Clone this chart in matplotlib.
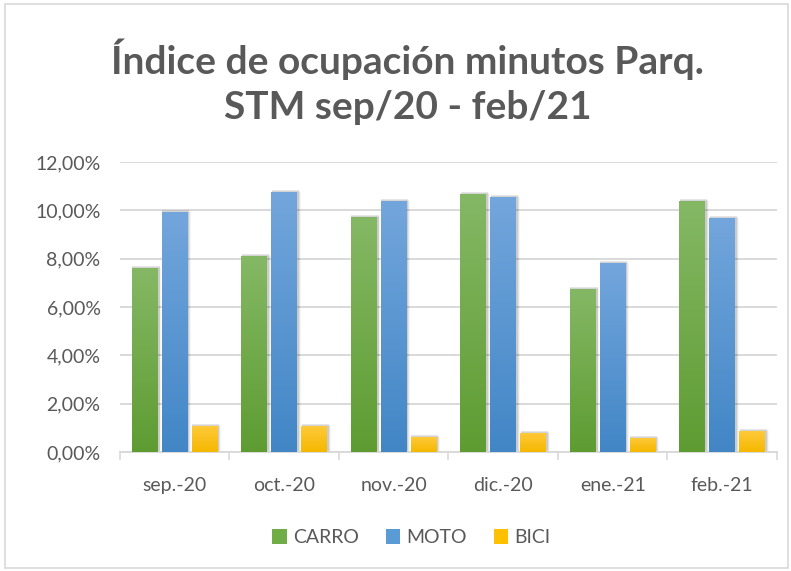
import numpy as np
import matplotlib
matplotlib.use("Agg")
import matplotlib.pyplot as plt
from matplotlib.colors import LinearSegmentedColormap
from matplotlib.patches import Rectangle, Patch
from matplotlib.ticker import FuncFormatter, MultipleLocator, FixedLocator

plt.rcParams['font.family'] = ['Lato', 'DejaVu Sans']

meses = ['sep.-20', 'oct.-20', 'nov.-20', 'dic.-20', 'ene.-21', 'feb.-21']
carro = [0.0761, 0.0811, 0.0972, 0.1067, 0.0675, 0.1038]
moto = [0.0993, 0.1076, 0.1038, 0.1055, 0.0782, 0.0968]
bici = [0.0109, 0.0109, 0.0063, 0.0080, 0.0059, 0.0088]

series = [
    ('CARRO', carro, '#85b865', '#5e9c32', '#70ad47'),
    ('MOTO', moto, '#73a6dc', '#4286c6', '#5b9bd5'),
    ('BICI', bici, '#ffca3c', '#f5b800', '#ffc000'),
]

gris = '#595959'

fig = plt.figure(figsize=(7.91, 5.71), dpi=100)
ax = fig.add_axes([0.1517, 0.2084, 0.8306, 0.5079])

# marco del grafico
fig.patches.append(Rectangle((0.006, 0.005), 0.99, 0.988, transform=fig.transFigure,
                             fill=False, edgecolor='#d9d9d9', linewidth=1.2))

x = np.arange(len(meses))
ancho = 0.237
paso = 0.273
grad = np.linspace(1, 0, 256).reshape(-1, 1)

for i, (nombre, valores, c_top, c_bot, c_ley) in enumerate(series):
    cmap = LinearSegmentedColormap.from_list(nombre, [c_bot, c_top])
    for xi, v in zip(x + (i - 1) * paso, valores):
        x0 = xi - ancho / 2
        # sombra suave a la derecha
        for k, a in enumerate([0.10, 0.07, 0.04]):
            dx = 0.012 + k * 0.008
            ax.add_patch(Rectangle((x0 + 0.004, 0), ancho + dx, v + 0.0004 * (2 - k),
                                   facecolor='black', alpha=a, linewidth=0, zorder=2))
        barra = ax.bar(xi, v, width=ancho, color=c_ley, zorder=3, linewidth=0)[0]
        img = ax.imshow(grad, cmap=cmap, aspect='auto', zorder=4,
                        extent=[x0, x0 + ancho, 0, v])
        img.set_clip_path(barra)

ax.set_xlim(-0.5, len(meses) - 0.5)
ax.set_ylim(0, 0.12)
ax.yaxis.set_major_locator(MultipleLocator(0.02))
ax.yaxis.set_major_formatter(FuncFormatter(lambda v, p: f'{v*100:.2f}%'.replace('.', ',')))
ax.grid(axis='y', color='#d9d9d9', linewidth=1.4, zorder=0)
ax.set_axisbelow(True)

ax.set_xticks(x)
ax.set_xticklabels(meses)
ax.xaxis.set_minor_locator(FixedLocator(np.arange(-0.5, len(meses), 1)))
ax.tick_params(axis='x', which='major', length=0, pad=18, labelsize=14, labelcolor=gris)
ax.tick_params(axis='x', which='minor', length=6, width=1.2, color='#d9d9d9')
ax.tick_params(axis='y', length=0, pad=14, labelsize=14, labelcolor=gris)

for lado in ['top', 'right', 'left']:
    ax.spines[lado].set_visible(False)
ax.spines['bottom'].set_color('#d9d9d9')
ax.spines['bottom'].set_linewidth(1.4)

fig.text(0.515, 0.857, 'Índice de ocupación minutos Parq.\nSTM sep/20 - feb/21',
         ha='center', va='center', fontsize=28, fontweight='bold', color=gris,
         linespacing=1.32)

handles = [Patch(facecolor=s[4], label=s[0]) for s in series]
fig.legend(handles=handles, loc='center', bbox_to_anchor=(0.52, 0.058), ncol=3,
           frameon=False, fontsize=14, labelcolor=gris, handlelength=0.75,
           handleheight=0.75, handletextpad=0.3, columnspacing=1.4)

fig.savefig('out.png', dpi=100)
